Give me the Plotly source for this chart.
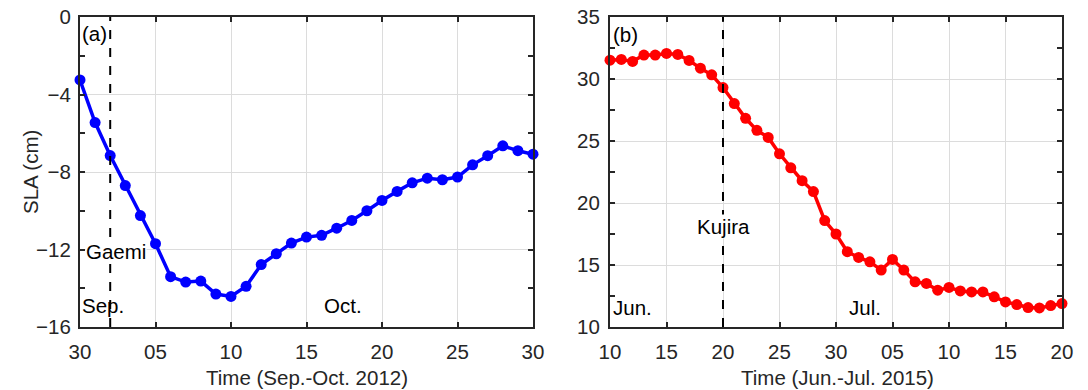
import plotly.graph_objects as go

# ---- Data ----
# Panel (a): days since 30 Sep 2012 (0 = Sep 30, 1 = Oct 1, ... 30 = Oct 30)
days_a = list(range(0, 31))
sla_a = [-3.25, -5.45, -7.15, -8.7, -10.25, -11.7, -13.4, -13.68, -13.63, -14.3,
         -14.42, -13.9, -12.78, -12.22, -11.67, -11.36, -11.27, -10.9, -10.5, -10.0,
         -9.47, -9.0, -8.56, -8.32, -8.4, -8.26, -7.63, -7.16, -6.65, -6.9, -7.08]
ticks_a = [0, 5, 10, 15, 20, 25, 30]
ticklabels_a = ["30", "05", "10", "15", "20", "25", "30"]
typhoon_a_day = 2
typhoon_a = "Gaemi"

# Panel (b): days since 10 Jun 2015 (0 = Jun 10, ... 40 = Jul 20)
days_b = list(range(0, 41))
sla_b = [31.52, 31.58, 31.42, 31.93, 31.93, 32.06, 31.98, 31.5, 30.87, 30.34,
         29.31, 28.02, 26.83, 25.86, 25.29, 23.97, 22.84, 21.8, 20.92, 18.58,
         17.5, 16.07, 15.61, 15.26, 14.59, 15.45, 14.59, 13.64, 13.51, 12.97,
         13.19, 12.91, 12.83, 12.83, 12.43, 12.02, 11.81, 11.57, 11.54, 11.73, 11.89]
ticks_b = [0, 5, 10, 15, 20, 25, 30, 35, 40]
ticklabels_b = ["10", "15", "20", "25", "30", "05", "10", "15", "20"]
typhoon_b_day = 10
typhoon_b = "Kujira"

xtitle_a = "Time (Sep.-Oct. 2012)"
xtitle_b = "Time (Jun.-Jul. 2015)"
ytitle = "SLA (cm)"

FONT = "Liberation Sans, Arial, Helvetica, sans-serif"
AXC = "#262626"
GRID = "#dcdcdc"
FS = 20.5

fig = go.Figure()

fig.add_trace(go.Scatter(x=days_a, y=sla_a, mode="lines+markers",
                         line=dict(color="#0000ff", width=3.5),
                         marker=dict(color="#0000ff", size=11),
                         cliponaxis=False,
                         xaxis="x", yaxis="y", showlegend=False))
fig.add_trace(go.Scatter(x=days_b, y=sla_b, mode="lines+markers",
                         line=dict(color="#ff0000", width=3.5),
                         marker=dict(color="#ff0000", size=11),
                         cliponaxis=False,
                         xaxis="x2", yaxis="y2", showlegend=False))

H = 390.0
W = 1088.0
ytop = 1 - 17 / H
ybot = 1 - 327 / H

common_axis = dict(showline=True, linecolor=AXC, linewidth=2, mirror="ticks",
                   ticks="inside", ticklen=5, tickcolor=AXC, tickwidth=1.5,
                   showgrid=True, gridcolor=GRID, gridwidth=1, zeroline=False,
                   automargin=False,
                   tickfont=dict(family=FONT, size=FS, color=AXC))

fig.update_layout(
    width=1088, height=390,
    margin=dict(l=0, r=0, t=0, b=0, autoexpand=False),
    paper_bgcolor="white", plot_bgcolor="white",
    font=dict(family=FONT, size=FS, color=AXC),
    xaxis=dict(domain=[80 / W, 533 / W], range=[0, 30], tickvals=ticks_a,
               ticktext=ticklabels_a, anchor="y", ticklabelstandoff=5,
               **common_axis),
    yaxis=dict(domain=[ybot, ytop], range=[-16, 0], tickvals=[-16, -12, -8, -4, 0],
               anchor="x", ticklabelstandoff=3,
               minor=dict(ticks="inside", ticklen=5, tickcolor=AXC, dtick=2, tick0=0, showgrid=False),
               **common_axis),
    xaxis2=dict(domain=[610 / W, 1062 / W], range=[0, 40], tickvals=ticks_b,
                ticktext=ticklabels_b, anchor="y2", ticklabelstandoff=5,
                **common_axis),
    yaxis2=dict(domain=[ybot, ytop], range=[10, 35], tickvals=[10, 15, 20, 25, 30, 35],
                anchor="x2", ticklabelstandoff=4,
                minor=dict(ticks="inside", ticklen=5, tickcolor=AXC, dtick=2.5, tick0=10, showgrid=False),
                **common_axis),
)

# typhoon dashed lines
fig.add_shape(type="line", xref="x", yref="y", x0=typhoon_a_day, x1=typhoon_a_day, y0=-16, y1=0,
              line=dict(color="black", width=2, dash="dash"), layer="above")
fig.add_shape(type="line", xref="x2", yref="y2", x0=typhoon_b_day, x1=typhoon_b_day, y0=10, y1=35,
              line=dict(color="black", width=2, dash="dash"), layer="above")

txt = dict(family=FONT, size=FS, color="black")
tfont = dict(family=FONT, size=FS, color=AXC)
ann = [
    dict(xref="x", yref="y", x=0.0, y=-0.85, text="(a)", xanchor="left", showarrow=False, font=txt),
    dict(xref="x", yref="y", x=0.35, y=-12.1, text=typhoon_a, xanchor="left", showarrow=False,
         font=txt, bgcolor="white", borderpad=0),
    dict(xref="x", yref="y", x=0.0, y=-14.9, text="Sep.", xanchor="left", showarrow=False, font=txt),
    dict(xref="x", yref="y", x=17.4, y=-14.9, text="Oct.", xanchor="center", showarrow=False, font=txt),
    dict(xref="x2", yref="y2", x=0.1, y=33.6, text="(b)", xanchor="left", showarrow=False, font=txt),
    dict(xref="x2", yref="y2", x=typhoon_b_day, y=18.1, text=typhoon_b, xanchor="center", showarrow=False,
         font=txt, bgcolor="white", borderpad=0),
    dict(xref="x2", yref="y2", x=0.1, y=11.6, text="Jun.", xanchor="left", showarrow=False, font=txt),
    dict(xref="x2", yref="y2", x=22.6, y=11.6, text="Jul.", xanchor="center", showarrow=False, font=txt),
    # axis titles
    dict(xref="paper", yref="paper", x=306.5 / W, y=1 - 377 / H, text=xtitle_a, xanchor="center",
         yanchor="middle", showarrow=False, font=tfont),
    dict(xref="paper", yref="paper", x=837 / W, y=1 - 377 / H, text=xtitle_b, xanchor="center",
         yanchor="middle", showarrow=False, font=tfont),
    dict(xref="paper", yref="paper", x=30 / W, y=1 - 172 / H, text=ytitle, textangle=-90,
         xanchor="center", yanchor="middle", showarrow=False, font=tfont),
]
fig.update_layout(annotations=ann)

fig.write_html("out.html")
